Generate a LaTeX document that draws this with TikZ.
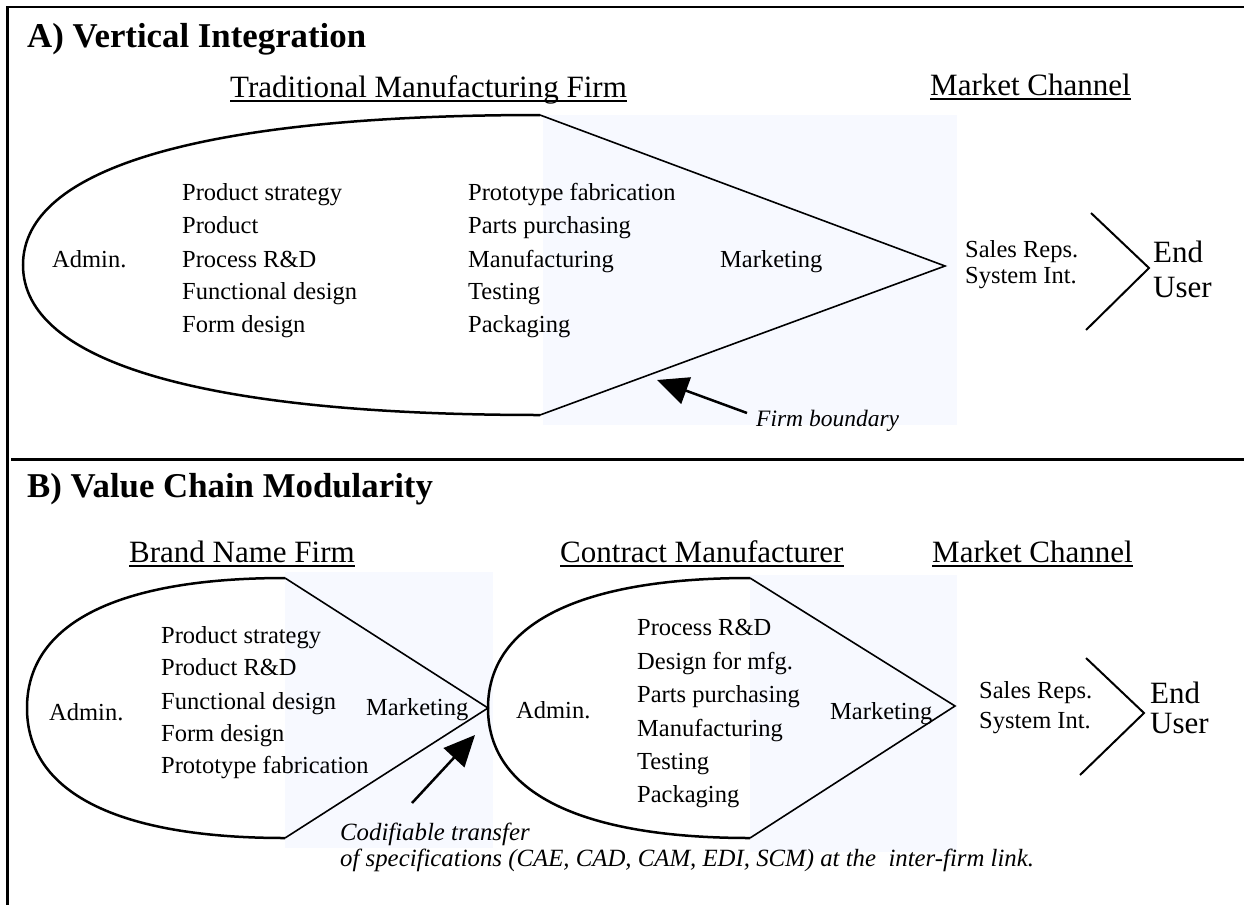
\documentclass[tikz,border=0pt]{standalone}
\usepackage{fontspec}
\setmainfont{Liberation Serif}
\usetikzlibrary{arrows.meta}
\definecolor{shade}{RGB}{247,249,255}
\begin{document}
\begin{tikzpicture}[x=1pt,y=-1pt,
 txt/.style={inner sep=0pt, anchor=base west, font=\fontsize{24.5}{29}\selectfont},
 hdr/.style={inner sep=0pt, anchor=base west, font=\fontsize{31}{36}\selectfont},
 ttl/.style={inner sep=0pt, anchor=base west, font=\bfseries\fontsize{34.8}{40}\selectfont},
 bigtxt/.style={inner sep=0pt, anchor=base west, font=\fontsize{31}{36}\selectfont},
 note/.style={inner sep=0pt, anchor=base west, font=\itshape\fontsize{24.8}{29}\selectfont},
 smallnote/.style={inner sep=0pt, anchor=base west, font=\itshape\fontsize{23.5}{27}\selectfont},
 oval/.style={line width=2.5pt},
 diag/.style={line width=1.6pt},
 frame/.style={line width=2.5pt},
 pointer/.style={line width=2.5pt, -{Triangle[length=31pt,width=28pt]}},
 chev/.style={line width=2pt},
 uline/.style={line width=1.4pt},
 shadebox/.style={fill=shade, draw=none}]
\useasboundingbox (0,0) rectangle (1244,905);

% shaded areas
\fill[shadebox] (543,115) rectangle (957,425);
\fill[shadebox] (285,572) rectangle (493,848);
\fill[shadebox] (750,575) rectangle (957,852);

% frame
\coordinate (fTL) at (6,7);
\coordinate (fTR) at (1244,7);
\coordinate (fLT) at (7.5,6);
\coordinate (fLB) at (7.5,905);
\coordinate (fML) at (11,459.5);
\coordinate (fMR) at (1244,459.5);
\draw[frame] (fTL) -- (fTR);
\draw[frame] (fLT) -- (fLB);
\draw[frame] (fML) -- (fMR);

% ---------- A) ----------
\coordinate (aTop) at (540,115);
\coordinate (aLeft) at (23,265);
\coordinate (aBot) at (540,415);
\coordinate (aApex) at (945,266);
\draw[oval] (aTop) .. controls (204,115) and (23,167.5) .. (aLeft)
  .. controls (23,362.5) and (204,415) .. (aBot);
\draw[diag] (aTop) -- (aApex) -- (aBot);

\node[ttl] (titleA) at (27,47) {A) Vertical Integration};
\node[hdr] (tmf) at (230,97) {Traditional Manufacturing Firm};
\draw[uline] ([yshift=-4pt]tmf.base west) -- ([yshift=-4pt]tmf.base east);
\node[hdr] (mcA) at (930,95) {Market Channel};
\draw[uline] ([yshift=-4pt]mcA.base west) -- ([yshift=-4pt]mcA.base east);

\node[txt] (adminA) at (52,267) {Admin.};
\node[txt] (a1) at (182,200) {Product strategy};
\node[txt] (a2) at (182,233) {Product};
\node[txt] (a3) at (182,267) {Process R\&D};
\node[txt] (a4) at (182,299) {Functional design};
\node[txt] (a5) at (182,332) {Form design};
\node[txt] (b1) at (468,200) {Prototype fabrication};
\node[txt] (b2) at (468,233) {Parts purchasing};
\node[txt] (b3) at (468,267) {Manufacturing};
\node[txt] (b4) at (468,299) {Testing};
\node[txt] (b5) at (468,332) {Packaging};
\node[txt] (mktA) at (720,267) {Marketing};
\node[txt] (srA) at (965,257) {Sales Reps.};
\node[txt] (siA) at (965,283) {System Int.};
\node[bigtxt] (endA) at (1153,262) {End};
\node[bigtxt] (userA) at (1153,297) {User};
\coordinate (cA1) at (1091,213);
\coordinate (cA2) at (1149,268);
\coordinate (cA3) at (1086,330);
\draw[chev] (cA1) -- (cA2) -- (cA3);

\node[smallnote] (fb) at (756,426) {Firm boundary};
\coordinate (fbTail) at (747,413);
\coordinate (fbTip) at (657,380);
\draw[pointer] (fbTail) -- (fbTip);

% ---------- B) ----------
\coordinate (lTop) at (285,578);
\coordinate (lLeft) at (27,708);
\coordinate (lBot) at (285,838);
\coordinate (lApex) at (488,708);
\draw[oval] (lTop) .. controls (117,578) and (27,623.5) .. (lLeft)
  .. controls (27,792.5) and (117,838) .. (lBot);
\draw[diag] (lTop) -- (lApex) -- (lBot);

\coordinate (rTop) at (750,578);
\coordinate (rLeft) at (488,708);
\coordinate (rBot) at (750,838);
\coordinate (rApex) at (955,706);
\draw[oval] (rTop) .. controls (580,578) and (488,623.5) .. (rLeft)
  .. controls (488,792.5) and (580,838) .. (rBot);
\draw[diag] (rTop) -- (rApex) -- (rBot);

\node[ttl] (titleB) at (27,497) {B) Value Chain Modularity};
\node[hdr] (bnf) at (129,562) {Brand Name Firm};
\draw[uline] ([yshift=-4pt]bnf.base west) -- ([yshift=-4pt]bnf.base east);
\node[hdr] (cm) at (560,562) {Contract Manufacturer};
\draw[uline] ([yshift=-4pt]cm.base west) -- ([yshift=-4pt]cm.base east);
\node[hdr] (mcB) at (932,562) {Market Channel};
\draw[uline] ([yshift=-4pt]mcB.base west) -- ([yshift=-4pt]mcB.base east);

\node[txt] (adminL) at (49,720) {Admin.};
\node[txt] (l1) at (161,643) {Product strategy};
\node[txt] (l2) at (161,675) {Product R\&D};
\node[txt] (l3) at (161,709) {Functional design};
\node[txt] (l4) at (161,741) {Form design};
\node[txt] (l5) at (161,773) {Prototype fabrication};
\node[txt] (mktL) at (366,715) {Marketing};

\node[txt] (adminR) at (516,718) {Admin.};
\node[txt] (r1) at (637,635) {Process R\&D};
\node[txt] (r2) at (637,669) {Design for mfg.};
\node[txt] (r3) at (637,702) {Parts purchasing};
\node[txt] (r4) at (637,736) {Manufacturing};
\node[txt] (r5) at (637,769) {Testing};
\node[txt] (r6) at (637,802) {Packaging};
\node[txt] (mktR) at (830,719) {Marketing};

\node[txt] (srB) at (979,698) {Sales Reps.};
\node[txt] (siB) at (979,728) {System Int.};
\node[bigtxt] (endB) at (1150,703) {End};
\node[bigtxt] (userB) at (1150,733) {User};
\coordinate (cB1) at (1086,658);
\coordinate (cB2) at (1144,713);
\coordinate (cB3) at (1080,775);
\draw[chev] (cB1) -- (cB2) -- (cB3);

\node[note] (cod1) at (340,840) {Codifiable transfer};
\node[note] (cod2) at (340,866) {of specifications (CAE, CAD, CAM, EDI, SCM) at the~ inter-firm link.};
\coordinate (codTail) at (412,803);
\coordinate (codTip) at (475,735);
\draw[pointer] (codTail) -- (codTip);
\end{tikzpicture}
\end{document}
